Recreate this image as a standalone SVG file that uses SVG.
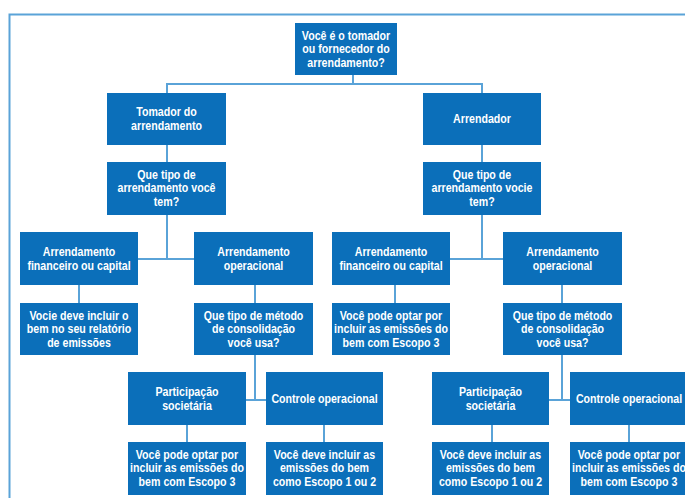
<svg xmlns="http://www.w3.org/2000/svg" width="685" height="498" viewBox="0 0 685 498">
<style>
.box{fill:#0B6FBA}
.t{fill:#ffffff;font-family:"Liberation Sans",Arial,sans-serif;font-weight:bold;font-size:12px;text-anchor:middle}
.c{stroke:#5AA3D8;stroke-width:2;fill:none}
</style>
<rect width="685" height="498" fill="#ffffff"/>
<path class="c" d="M9.5,498 V14.5 H685"/>
<g id="connectors">
<path class="c" d="M353,75 V84 M167,93 V84 H482 V93"/>
<path class="c" d="M167,145 V162 M482,145 V162"/>
<path class="c" d="M167,215 V259 M138,259 H194"/>
<path class="c" d="M482,215 V259 M450,259 H503"/>
<path class="c" d="M79,285 V303 M255,285 V303 M395,285 V303 M562,285 V303"/>
<path class="c" d="M255,355 V400 M246,400 H266"/>
<path class="c" d="M562,355 V400 M549,400 H570"/>
<path class="c" d="M187,425 V442 M324,425 V442 M492,425 V442 M629,425 V442"/>
</g>
<g id="n-root"><rect class="box" x="295" y="23" width="102" height="52"/>
<g transform="translate(346 0) scale(0.885 1)"><text class="t" x="0" y="40">Você é o tomador</text><text class="t" x="0" y="53.5">ou fornecedor do</text><text class="t" x="0" y="67">arrendamento?</text></g></g>
<g id="n-tomador"><rect class="box" x="107" y="93" width="119" height="52"/>
<g transform="translate(166.5 0) scale(0.885 1)"><text class="t" x="0" y="116">Tomador do</text><text class="t" x="0" y="130">arrendamento</text></g></g>
<g id="n-arrendador"><rect class="box" x="423" y="93" width="118" height="52"/>
<g transform="translate(482 0) scale(0.885 1)"><text class="t" x="0" y="123">Arrendador</text></g></g>
<g id="n-tipo-l"><rect class="box" x="107" y="162" width="119" height="53"/>
<g transform="translate(166.5 0) scale(0.885 1)"><text class="t" x="0" y="179">Que tipo de</text><text class="t" x="0" y="192.5">arrendamento você</text><text class="t" x="0" y="206">tem?</text></g></g>
<g id="n-tipo-r"><rect class="box" x="423" y="162" width="118" height="53"/>
<g transform="translate(482 0) scale(0.885 1)"><text class="t" x="0" y="179">Que tipo de</text><text class="t" x="0" y="192.5">arrendamento vocie</text><text class="t" x="0" y="206">tem?</text></g></g>
<g id="n-fin-l"><rect class="box" x="20" y="232" width="118" height="53"/>
<g transform="translate(79 0) scale(0.885 1)"><text class="t" x="0" y="256">Arrendamento</text><text class="t" x="0" y="270">financeiro ou capital</text></g></g>
<g id="n-op-l"><rect class="box" x="194" y="232" width="119" height="53"/>
<g transform="translate(253.5 0) scale(0.885 1)"><text class="t" x="0" y="256">Arrendamento</text><text class="t" x="0" y="270">operacional</text></g></g>
<g id="n-fin-r"><rect class="box" x="332" y="232" width="118" height="53"/>
<g transform="translate(391 0) scale(0.885 1)"><text class="t" x="0" y="256">Arrendamento</text><text class="t" x="0" y="270">financeiro ou capital</text></g></g>
<g id="n-op-r"><rect class="box" x="503" y="232" width="119" height="53"/>
<g transform="translate(562.5 0) scale(0.885 1)"><text class="t" x="0" y="256">Arrendamento</text><text class="t" x="0" y="270">operacional</text></g></g>
<g id="n-deve-l"><rect class="box" x="20" y="303" width="118" height="52"/>
<g transform="translate(79 0) scale(0.885 1)"><text class="t" x="0" y="320">Vocie deve incluir o</text><text class="t" x="0" y="333.5">bem no seu relatório</text><text class="t" x="0" y="347">de emissões</text></g></g>
<g id="n-metodo-l"><rect class="box" x="194" y="303" width="119" height="52"/>
<g transform="translate(253.5 0) scale(0.885 1)"><text class="t" x="0" y="320">Que tipo de método</text><text class="t" x="0" y="333.5">de consolidação</text><text class="t" x="0" y="347">você usa?</text></g></g>
<g id="n-pode-r"><rect class="box" x="332" y="303" width="118" height="52"/>
<g transform="translate(391 0) scale(0.885 1)"><text class="t" x="0" y="320">Você pode optar por</text><text class="t" x="0" y="333.5">incluir as emissões do</text><text class="t" x="0" y="347">bem com Escopo 3</text></g></g>
<g id="n-metodo-r"><rect class="box" x="503" y="303" width="119" height="52"/>
<g transform="translate(562.5 0) scale(0.885 1)"><text class="t" x="0" y="320">Que tipo de método</text><text class="t" x="0" y="333.5">de consolidação</text><text class="t" x="0" y="347">você usa?</text></g></g>
<g id="n-part-l"><rect class="box" x="128" y="372" width="118" height="53"/>
<g transform="translate(187 0) scale(0.885 1)"><text class="t" x="0" y="396">Participação</text><text class="t" x="0" y="410">societária</text></g></g>
<g id="n-ctrl-l"><rect class="box" x="266" y="372" width="117" height="53"/>
<g transform="translate(324.5 0) scale(0.885 1)"><text class="t" x="0" y="403">Controle operacional</text></g></g>
<g id="n-part-r"><rect class="box" x="432" y="372" width="117" height="53"/>
<g transform="translate(490.5 0) scale(0.885 1)"><text class="t" x="0" y="396">Participação</text><text class="t" x="0" y="410">societária</text></g></g>
<g id="n-ctrl-r"><rect class="box" x="570" y="372" width="118" height="53"/>
<g transform="translate(629 0) scale(0.885 1)"><text class="t" x="0" y="403">Controle operacional</text></g></g>
<g id="n-pode-l"><rect class="box" x="128" y="442" width="118" height="53"/>
<g transform="translate(187 0) scale(0.885 1)"><text class="t" x="0" y="459">Você pode optar por</text><text class="t" x="0" y="472.5">incluir as emissões do</text><text class="t" x="0" y="486">bem com Escopo 3</text></g></g>
<g id="n-deve-l2"><rect class="box" x="266" y="442" width="117" height="53"/>
<g transform="translate(324.5 0) scale(0.885 1)"><text class="t" x="0" y="459">Você deve incluir as</text><text class="t" x="0" y="472.5">emissões do bem</text><text class="t" x="0" y="486">como Escopo 1 ou 2</text></g></g>
<g id="n-deve-r"><rect class="box" x="432" y="442" width="117" height="53"/>
<g transform="translate(490.5 0) scale(0.885 1)"><text class="t" x="0" y="459">Você deve incluir as</text><text class="t" x="0" y="472.5">emissões do bem</text><text class="t" x="0" y="486">como Escopo 1 ou 2</text></g></g>
<g id="n-pode-r2"><rect class="box" x="570" y="442" width="118" height="53"/>
<g transform="translate(629 0) scale(0.885 1)"><text class="t" x="0" y="459">Você pode optar por</text><text class="t" x="0" y="472.5">incluir as emissões do</text><text class="t" x="0" y="486">bem com Escopo 3</text></g></g>
</svg>
